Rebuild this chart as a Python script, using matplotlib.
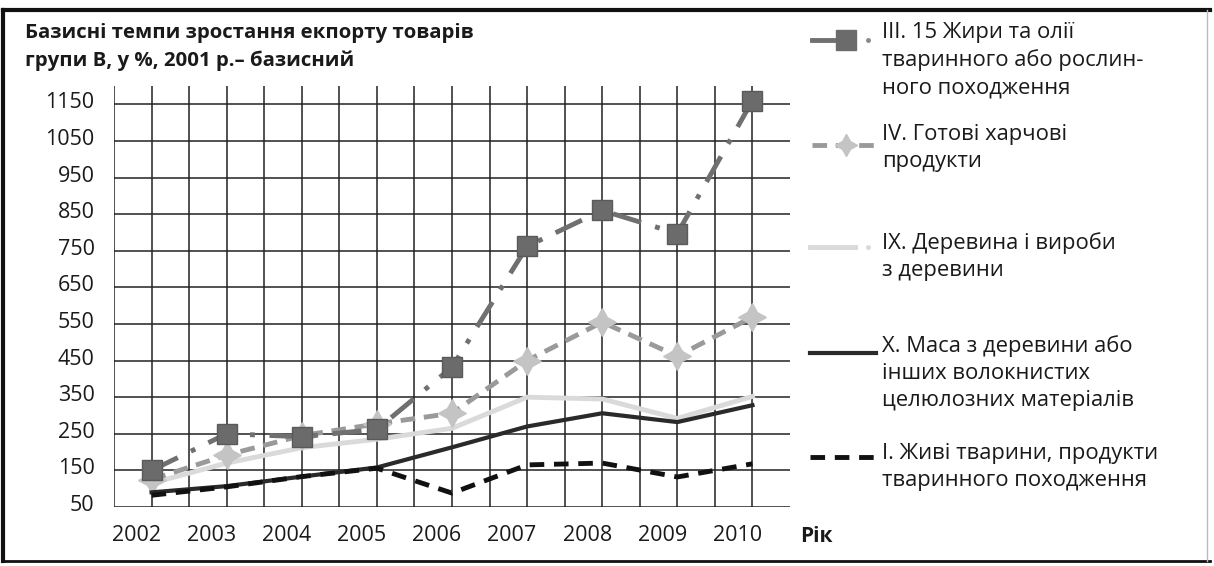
import numpy as np
import matplotlib.pyplot as plt
import matplotlib.transforms as mtransforms
from matplotlib.lines import Line2D

plt.rcParams['font.family'] = ['Open Sans', 'DejaVu Sans']

# ----------------------------------------------------------------------
# Дані (базисні темпи, %, 2001 р. = базисний)
# ----------------------------------------------------------------------
years = [2002, 2003, 2004, 2005, 2006, 2007, 2008, 2009, 2010]
fats_oils = [150, 250, 242, 262, 432, 762, 860, 797, 1160]        # III. 15
food_products = [125, 192, 245, 277, 306, 450, 555, 462, 569]      # IV
wood = [115, 170, 212, 235, 265, 350, 345, 292, 352]                # IX
wood_pulp = [90, 107, 133, 158, 213, 270, 306, 282, 328]            # X
live_animals = [82, 105, 133, 156, 88, 165, 170, 132, 168]          # I

y_ticks = list(range(50, 1151, 100))
title = "Базисні темпи зростання екпорту товарів\nгрупи В, у %, 2001 р.– базисний"
legend_labels = [
    "III. 15 Жири та олії\nтваринного або рослин-\nного походження",
    "IV. Готові харчові\nпродукти",
    "IX. Деревина і вироби\nз деревини",
    "X. Маса з деревини або\nінших волокнистих\nцелюлозних матеріалів",
    "І. Живі тварини, продукти\nтваринного походження",
]

W, H = 1214, 566
fig = plt.figure(figsize=(W / 100, H / 100), dpi=100)
fig.patch.set_facecolor('white')

# основна область графіка
ax = fig.add_axes([114 / W, 1 - 507 / H, (790 - 114) / W, (507 - 86) / H])
ax.set_xlim(2001.5, 2010.5)
ax.set_ylim(50, 1200)
for s in ax.spines.values():
    s.set_visible(False)

# сітка
grid_x = np.arange(2001.5, 2010.01, 0.5)
ax.hlines(y_ticks, 2001.5, 2010.5, color='#222222', lw=1.1, zorder=1)
ax.vlines(grid_x, 50, 1200, color='#222222', lw=1.1, zorder=1)

# серії
ax.plot(years, wood, color='#dadada', lw=3.5, zorder=2)
ax.plot(years, food_products, color='#9a9a9a', lw=3.5, ls=(0, (3, 1.8)),
        marker=(4, 1, 0), markersize=20, markerfacecolor='#c4c4c4',
        markeredgecolor='#c4c4c4', zorder=3)
ax.plot(years, fats_oils, color='#707070', lw=3.5, ls=(0, (6, 3, 1, 3)),
        marker='s', markersize=15, markerfacecolor='#6b6b6b',
        markeredgecolor='#5a5a5a', zorder=4)
ax.plot(years, wood_pulp, color='#2a2a2a', lw=3, zorder=5)
ax.plot(years, live_animals, color='#111111', lw=3.5, ls=(0, (3, 2)), zorder=6)

ax.set_yticks(y_ticks)
ax.set_xticks(years)
ax.tick_params(length=0, labelsize=15.5, colors='#1a1a1a')
ax.tick_params(axis='x', pad=13)
ax.tick_params(axis='y', pad=14)

# підписи років у оригіналі зсунуті трохи ліворуч, числа осі Y — трохи вгору
dx = mtransforms.ScaledTranslation(-15 / 100, 0, fig.dpi_scale_trans)
for lbl in ax.get_xticklabels():
    lbl.set_transform(lbl.get_transform() + dx)
dy = mtransforms.ScaledTranslation(0, 4 / 100, fig.dpi_scale_trans)
for lbl in ax.get_yticklabels():
    lbl.set_transform(lbl.get_transform() + dy)

# накладка для тексту й легенди в пікселях
ov = fig.add_axes([0, 0, 1, 1], zorder=10)
ov.set_xlim(0, W)
ov.set_ylim(H, 0)
ov.axis('off')
ov.patch.set_alpha(0)

# рамка
ov.add_line(Line2D([3, 3], [10, 561], color='#111111', lw=3))
ov.add_line(Line2D([3, 1210], [10, 10], color='#111111', lw=3))
ov.add_line(Line2D([3, 1210], [561, 561], color='#111111', lw=2))
ov.add_line(Line2D([1207, 1207], [10, 561], color='#bbbbbb', lw=1))

ov.text(25, 47, title, fontsize=14.7, fontweight='bold', va='center',
        ha='left', linespacing=1.45, color='#1a1a1a')
ov.text(800, 537, "Рік", fontsize=15, fontweight='bold', va='center',
        ha='left', color='#1a1a1a')

# легенда
text_y = [60, 148, 257, 373, 467]
for lbl, ty in zip(legend_labels, text_y):
    ov.text(882, ty, lbl, fontsize=15.8, va='center', ha='left',
            linespacing=1.38, color='#1a1a1a')

ov.add_line(Line2D([812, 852], [40, 40], color='#707070', lw=3.5))
ov.add_line(Line2D([846], [40], marker='s', markersize=15, color='#6b6b6b'))
ov.add_line(Line2D([868], [40], marker='o', markersize=2.5, color='#888888'))
ov.add_line(Line2D([812, 880], [145, 145], color='#9a9a9a', lw=3.5, ls=(0, (3, 1.8))))
ov.add_line(Line2D([846], [145], marker=(4, 1, 0), markersize=16, color='#c4c4c4'))
ov.add_line(Line2D([810, 855], [247, 247], color='#dadada', lw=3.5))
ov.add_line(Line2D([868], [247], marker='o', markersize=2.5, color='#dadada'))
ov.add_line(Line2D([810, 876], [353, 353], color='#2a2a2a', lw=3))
ov.add_line(Line2D([810, 878], [457, 457], color='#111111', lw=3.5, ls=(0, (3, 2))))

fig.savefig('out.png', dpi=100, facecolor='white')
